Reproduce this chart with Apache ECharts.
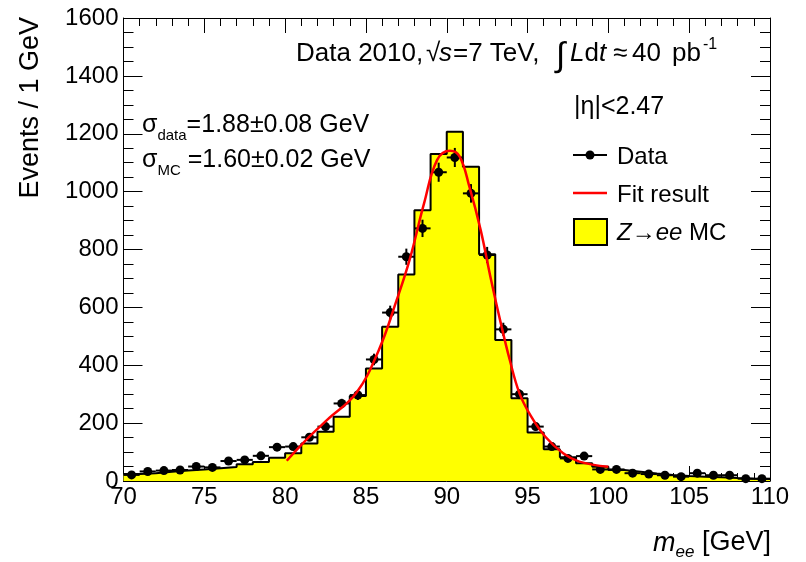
<!DOCTYPE html>
<html>
<head>
<meta charset="utf-8">
<script src="https://cdn.jsdelivr.net/npm/echarts@6/dist/echarts.min.js"></script>
<style>
  html, body { margin: 0; padding: 0; background: #fff; }
  #chart { width: 806px; height: 562px; }
</style>
</head>
<body>
<div id="chart"></div>
<script>
// m_ee histogram, 1 GeV bins (low edge of each bin)
const binLow = [70, 71, 72, 73, 74, 75, 76, 77, 78, 79,
                80, 81, 82, 83, 84, 85, 86, 87, 88, 89,
                90, 91, 92, 93, 94, 95, 96, 97, 98, 99,
                100, 101, 102, 103, 104, 105, 106, 107, 108, 109];
const mcEvents = [24, 27, 32, 36, 40, 44, 48, 58, 66, 80,
                  96, 130, 170, 222, 294, 389, 533, 714, 936, 1130,
                  1207, 1086, 784, 487, 286, 168, 110, 82, 61, 49,
                  38, 32, 26, 21, 17, 15, 13, 10, 8, 7];
const dataEvents = [21, 33, 36, 38, 50, 47, 69, 73, 87, 117,
                    119, 151, 188, 268, 297, 420, 582, 775, 873, 1067,
                    1118, 994, 781, 524, 300, 188, 119, 78, 86, 40,
                    40, 27, 24, 20, 15, 27, 20, 20, 8, 8];
const dataErrors = [5, 6, 6, 6, 7, 7, 8, 9, 9, 11,
                    11, 12, 14, 16, 17, 20, 24, 28, 30, 33,
                    33, 32, 28, 23, 17, 14, 11, 9, 9, 6,
                    6, 5, 5, 4, 4, 5, 4, 4, 3, 3];
// fit curve
const fitMass = [80.1, 81.5, 82.6, 84.4, 85.8, 86.9, 87.7, 88.6, 89.4, 90.2,
                 90.8, 91.4, 92.1, 92.7, 93.3, 93.9, 94.5, 95.2, 96.1, 97.2, 98.2, 100.0];
const fitEvents = [70, 153, 211, 304, 453, 625, 764, 960, 1109, 1141,
                   1121, 1017, 867, 706, 556, 418, 303, 225, 153, 96, 67, 49];

const FONT = 'Liberation Sans, Arial, Helvetica, sans-serif';

let myChart = echarts.init(document.getElementById('chart'));

// histogram outline as step line (extra point closes last bin)
let mcStep = binLow.map((m, i) => [m, mcEvents[i]]);
mcStep.push([110, mcEvents[mcEvents.length - 1]]);

let dataPts = binLow.map((m, i) => [m + 0.5, dataEvents[i], dataErrors[i]]);
let fitPts = fitMass.map((m, i) => [m, fitEvents[i]]);

let tickX = {
  min: 70, max: 110, interval: 5,
  axisLine: { onZero: false, lineStyle: { color: '#000', width: 1 } },
  axisTick: { inside: true, length: 15, lineStyle: { color: '#000', width: 1 } },
  minorTick: { show: true, splitNumber: 5, length: 8, lineStyle: { color: '#000', width: 1 } },
  splitLine: { show: false },
  minorSplitLine: { show: false }
};
let tickY = {
  min: 0, max: 1600, interval: 200,
  axisLine: { show: true, onZero: false, lineStyle: { color: '#000', width: 1 } },
  axisTick: { show: true, inside: true, length: 19, lineStyle: { color: '#000', width: 1 } },
  minorTick: { show: true, splitNumber: 4, length: 10, lineStyle: { color: '#000', width: 1 } },
  splitLine: { show: false },
  minorSplitLine: { show: false }
};

// plain text helper for the annotations
function txt(x, y, s, size, italic) {
  return {
    type: 'text', x: x, y: y,
    style: { text: s, align: 'left', verticalAlign: 'middle', fill: '#000',
             font: (italic ? 'italic ' : '') + size + 'px ' + FONT }
  };
}

let option = {
  animation: false,
  backgroundColor: '#fff',
  grid: { left: 123.5, right: 36, top: 18, bottom: 81 },
  xAxis: [
    Object.assign({ type: 'value', position: 'bottom',
      axisLabel: { fontSize: 24, color: '#000', fontFamily: FONT, margin: 4 } }, tickX),
    Object.assign({ type: 'value', position: 'top',
      axisLabel: { show: false } }, tickX)
  ],
  yAxis: [
    Object.assign({ type: 'value', position: 'left',
      axisLabel: { fontSize: 24, color: '#000', fontFamily: FONT, margin: 5,
                   formatter: v => String(v) } }, tickY),
    Object.assign({ type: 'value', position: 'right',
      axisLabel: { show: false } }, tickY)
  ],
  series: [
    {
      name: 'Z→ee MC',
      type: 'line',
      step: 'end',
      data: mcStep,
      symbol: 'none',
      lineStyle: { color: '#000', width: 2 },
      areaStyle: { color: '#ffff00', opacity: 1 },
      z: 1
    },
    {
      name: 'Data',
      type: 'custom',
      data: dataPts,
      encode: { x: 0, y: 1 },
      z: 3,
      renderItem: function (params, api) {
        let x = api.value(0), y = api.value(1), e = api.value(2);
        let pl = api.coord([x - 0.5, y]);
        let pr = api.coord([x + 0.5, y]);
        let pt = api.coord([x, y + e]);
        let pb = api.coord([x, y - e]);
        let c = api.coord([x, y]);
        return {
          type: 'group',
          children: [
            { type: 'line', shape: { x1: pl[0], y1: pl[1], x2: pr[0], y2: pr[1] },
              style: { stroke: '#000', lineWidth: 2 } },
            { type: 'line', shape: { x1: pt[0], y1: pt[1], x2: pb[0], y2: pb[1] },
              style: { stroke: '#000', lineWidth: 2 } },
            { type: 'circle', shape: { cx: c[0], cy: c[1], r: 4.5 },
              style: { fill: '#000' } }
          ]
        };
      }
    },
    {
      name: 'Fit result',
      type: 'line',
      data: fitPts,
      smooth: 0.4,
      symbol: 'none',
      lineStyle: { color: '#ff0000', width: 2.5 },
      z: 4
    }
  ],
  graphic: [
    // axis titles
    {
      type: 'text', x: 31, y: 17, rotation: Math.PI / 2,
      style: { text: 'Events / 1 GeV', x: 0, y: 0, align: 'right', verticalAlign: 'middle',
               font: '27px ' + FONT, fill: '#000' }
    },
    {
      type: 'text', x: 771, y: 543,
      style: {
        text: '{i|m}{s|ee}{n| [GeV]}', align: 'right', verticalAlign: 'middle', fill: '#000',
        rich: {
          n: { fontSize: 27, fontFamily: FONT, lineHeight: 36 },
          i: { fontSize: 27, fontFamily: FONT, fontStyle: 'italic', lineHeight: 36 },
          s: { fontSize: 17, fontFamily: FONT, fontStyle: 'italic', lineHeight: 36, verticalAlign: 'bottom' }
        }
      }
    },
    // header text, pieces placed like the TLatex spacing
    txt(296, 54, 'Data 2010,', 26),
    txt(426, 54, '√', 26),
    txt(439, 54, 's', 26, true),
    txt(453, 54, '=7 TeV,', 26),
    txt(556, 57, '∫', 34),
    {
      type: 'text', x: 570, y: 54,
      style: {
        text: '{i|L}{n|d}{i|t}', align: 'left', verticalAlign: 'middle', fill: '#000',
        rich: {
          n: { fontSize: 26, fontFamily: FONT },
          i: { fontSize: 26, fontFamily: FONT, fontStyle: 'italic' }
        }
      }
    },
    txt(613, 54, '≈', 26),
    txt(632, 54, '40', 26),
    txt(672, 54, 'pb', 26),
    txt(703, 45, '-1', 16),
    txt(574, 107, '|η|<2.47', 25),
    // widths
    {
      type: 'text', x: 142, y: 125,
      style: {
        text: '{n|σ}{s|data}{n|=1.88±0.08 GeV}', align: 'left', verticalAlign: 'middle', fill: '#000',
        rich: {
          n: { fontSize: 25, fontFamily: FONT, lineHeight: 36 },
          s: { fontSize: 15, fontFamily: FONT, lineHeight: 36, verticalAlign: 'bottom' }
        }
      }
    },
    {
      type: 'text', x: 142, y: 160,
      style: {
        text: '{n|σ}{s|MC}{n| =1.60±0.02 GeV}', align: 'left', verticalAlign: 'middle', fill: '#000',
        rich: {
          n: { fontSize: 25, fontFamily: FONT, lineHeight: 36 },
          s: { fontSize: 15, fontFamily: FONT, lineHeight: 36, verticalAlign: 'bottom' }
        }
      }
    },
    // legend
    { type: 'line', shape: { x1: 573, y1: 155, x2: 607, y2: 155 }, style: { stroke: '#000', lineWidth: 2 } },
    { type: 'circle', shape: { cx: 590, cy: 155, r: 4.5 }, style: { fill: '#000' } },
    txt(617, 157, 'Data', 24),
    { type: 'line', shape: { x1: 573, y1: 193, x2: 607, y2: 193 }, style: { stroke: '#ff0000', lineWidth: 2.5 } },
    txt(617, 195, 'Fit result', 24),
    { type: 'rect', shape: { x: 574, y: 219, width: 33, height: 26 }, style: { fill: '#ffff00', stroke: '#000', lineWidth: 2 } },
    {
      type: 'text', x: 617, y: 233,
      style: {
        text: '{i|Z}{n|→}{i|ee}{n| MC}', verticalAlign: 'middle', fill: '#000',
        rich: {
          n: { fontSize: 24, fontFamily: FONT },
          i: { fontSize: 24, fontFamily: FONT, fontStyle: 'italic' }
        }
      }
    }
  ]
};

myChart.setOption(option);
</script>
</body>
</html>
